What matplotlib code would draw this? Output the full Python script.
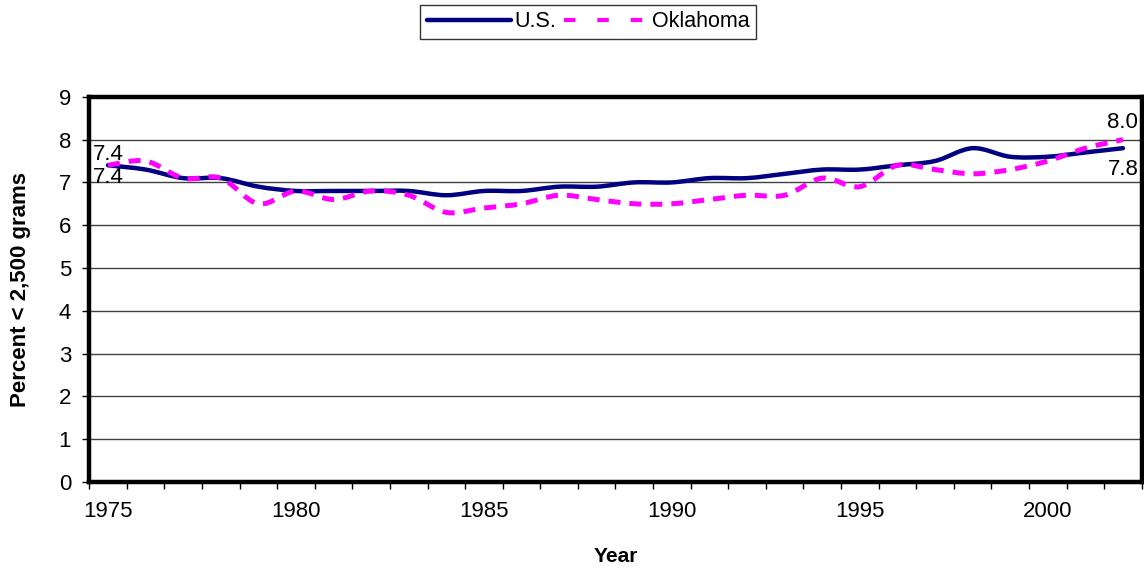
import matplotlib
matplotlib.use("Agg")
import matplotlib.pyplot as plt
from matplotlib.path import Path
from matplotlib.patches import PathPatch
from matplotlib.lines import Line2D
import numpy as np

plt.rcParams['font.family'] = ['Liberation Sans', 'DejaVu Sans']

years = list(range(1975, 2003))
us = [7.4, 7.3, 7.1, 7.1, 6.9, 6.8, 6.8, 6.8, 6.8, 6.7, 6.8, 6.8, 6.9, 6.9,
      7.0, 7.0, 7.1, 7.1, 7.2, 7.3, 7.3, 7.4, 7.5, 7.8, 7.6, 7.6, 7.7, 7.8]
oklahoma = [7.4, 7.5, 7.1, 7.1, 6.5, 6.8, 6.6, 6.8, 6.7, 6.3, 6.4, 6.5, 6.7, 6.6,
            6.5, 6.5, 6.6, 6.7, 6.7, 7.1, 6.9, 7.4, 7.3, 7.2, 7.3, 7.5, 7.8, 8.0]
tick_years = [1975, 1980, 1985, 1990, 1995, 2000]


def smooth_path(x, y):
    # Excel-style smoothed line: cubic bezier segments through the points
    x = np.asarray(x, float)
    y = np.asarray(y, float)
    verts = [(x[0], y[0])]
    codes = [Path.MOVETO]
    n = len(x)
    for i in range(n - 1):
        p0 = (x[max(i - 1, 0)], y[max(i - 1, 0)])
        p1 = (x[i], y[i])
        p2 = (x[i + 1], y[i + 1])
        p3 = (x[min(i + 2, n - 1)], y[min(i + 2, n - 1)])
        c1 = (p1[0] + (p2[0] - p0[0]) / 6, p1[1] + (p2[1] - p0[1]) / 6)
        c2 = (p2[0] - (p3[0] - p1[0]) / 6, p2[1] - (p3[1] - p1[1]) / 6)
        verts += [c1, c2, p2]
        codes += [Path.CURVE4] * 3
    return Path(verts, codes)


fig = plt.figure(figsize=(11.44, 5.73), dpi=100)
ax = fig.add_axes([0.078, 0.159, 0.920, 0.672])

xpos = np.arange(len(years)) + 0.5

us_patch = PathPatch(smooth_path(xpos, us), facecolor='none', edgecolor='#000080',
                     lw=3.2, capstyle='round', joinstyle='round', zorder=3)
ok_patch = PathPatch(smooth_path(xpos, oklahoma), facecolor='none', edgecolor='#ff00ff',
                     lw=3.6, linestyle=(0, (2.4, 1.8)), zorder=4)
ax.add_patch(us_patch)
ax.add_patch(ok_patch)

ax.set_xlim(0, len(years))
ax.set_ylim(0, 9)
ax.set_yticks(range(0, 10))
ax.yaxis.grid(True, color='#404040', lw=1.0)
ax.set_axisbelow(True)

ax.set_xticks(np.arange(len(years) + 1))
ax.set_xticklabels([])
ax.set_xticks([years.index(t) + 0.5 for t in tick_years], minor=True)
ax.set_xticklabels([str(t) for t in tick_years], minor=True)
ax.tick_params(axis='x', which='minor', length=0, pad=14, labelsize=16)
ax.tick_params(axis='x', which='major', length=5, width=1, direction='out')
ax.tick_params(axis='y', length=5, width=1, direction='out', labelsize=16, pad=8)

for s in ax.spines.values():
    s.set_linewidth(3.2)
    s.set_color('black')

ax.set_xlabel('Year', fontsize=15, fontweight='bold', labelpad=18)
ax.set_ylabel('Percent < 2,500 grams', fontsize=16, fontweight='bold', labelpad=20)

# data labels at the ends
ax.text(xpos[0], oklahoma[0] + 0.0, '%.1f' % oklahoma[0], ha='center', va='bottom', fontsize=16)
ax.text(xpos[0], us[0] - 0.03, '%.1f' % us[0], ha='center', va='top', fontsize=16)
ax.text(xpos[-1], oklahoma[-1] + 0.16, '%.1f' % oklahoma[-1], ha='center', va='bottom', fontsize=16)
ax.text(xpos[-1], us[-1] - 0.26, '%.1f' % us[-1], ha='center', va='top', fontsize=16)

handles = [Line2D([], [], color='#000080', lw=3.2, solid_capstyle='round'),
           Line2D([], [], color='#ff00ff', lw=3.0, linestyle=(0, (2.75, 5.25)))]
leg = fig.legend(handles, ['U.S.', 'Oklahoma'], loc='upper center', bbox_to_anchor=(0.514, 1.01),
                 ncol=2, fontsize=15.5, frameon=True, fancybox=False, edgecolor='black',
                 handlelength=3.9, handletextpad=0.15, columnspacing=0.4, borderpad=0.3)
leg.get_frame().set_linewidth(1.0)

fig.savefig('out.png', dpi=100)
